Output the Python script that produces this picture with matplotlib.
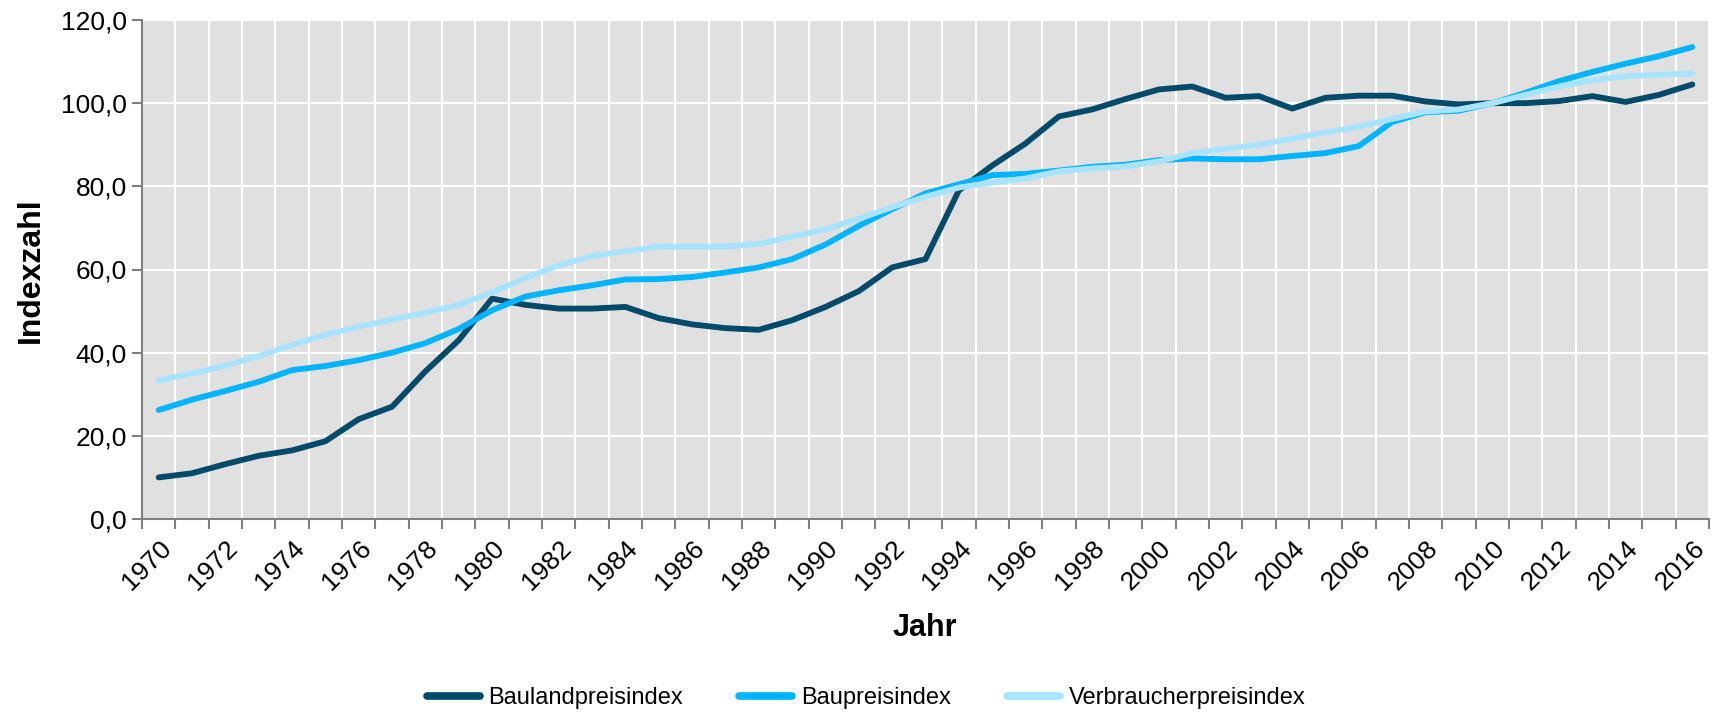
import matplotlib
matplotlib.use("Agg")
import matplotlib.pyplot as plt
from matplotlib.ticker import FuncFormatter, FixedLocator

plt.rcParams['font.family'] = ['Liberation Sans', 'DejaVu Sans']

# Data
years = list(range(1970, 2017))
bauland = [10.0, 11.0, 13.2, 15.2, 16.5, 18.7, 24.0, 27.0, 35.5, 43.0,
           53.0, 51.5, 50.6, 50.6, 51.0, 48.3, 46.8, 45.9, 45.5, 47.8,
           51.0, 54.8, 60.5, 62.5, 79.0, 85.0, 90.3, 96.8, 98.5, 101.0,
           103.3, 104.0, 101.3, 101.7, 98.7, 101.3, 101.8, 101.8, 100.4, 99.7,
           100.0, 100.0, 100.5, 101.7, 100.3, 102.0, 104.5]
baupreis = [26.2, 28.7, 30.8, 33.0, 35.8, 36.8, 38.2, 40.0, 42.3, 45.7,
            50.2, 53.5, 55.0, 56.2, 57.6, 57.7, 58.2, 59.3, 60.5, 62.5,
            66.0, 70.5, 74.5, 78.3, 80.5, 82.7, 83.0, 83.8, 84.7, 85.2,
            86.3, 86.7, 86.5, 86.5, 87.3, 88.0, 89.7, 95.5, 97.8, 98.2,
            100.0, 102.5, 105.3, 107.5, 109.5, 111.3, 113.5]
verbraucher = [33.3, 35.0, 36.9, 39.2, 41.9, 44.3, 46.2, 48.0, 49.6, 51.5,
               54.5, 58.0, 61.0, 63.2, 64.4, 65.5, 65.5, 65.5, 66.2, 67.9,
               69.7, 72.2, 75.0, 77.5, 79.7, 80.9, 81.9, 83.6, 84.3, 84.8,
               86.0, 88.0, 89.0, 90.0, 91.5, 93.0, 94.3, 96.2, 98.0, 98.5,
               100.0, 102.0, 104.0, 105.5, 106.5, 106.8, 107.2]
series_names = ['Baulandpreisindex', 'Baupreisindex', 'Verbraucherpreisindex']
colors = ['#004A6A', '#00B4FF', '#A8E4FF']

W, H = 1719, 714
fig = plt.figure(figsize=(W / 100, H / 100), dpi=100)
ax = fig.add_axes([142 / W, 1 - 519 / H, (1709 - 142) / W, (519 - 20) / H])
ax.set_facecolor('#E0E0E0')

x = list(range(len(years)))
for vals, name, col in zip([bauland, baupreis, verbraucher], series_names, colors):
    ax.plot(x, vals, color=col, lw=4.2, label=name, solid_capstyle='round',
            solid_joinstyle='round', zorder=3)

ax.set_xlim(-0.5, len(years) - 0.5)
ax.set_ylim(0, 120)

# y axis
ax.set_yticks(range(0, 121, 20))
ax.yaxis.set_major_formatter(FuncFormatter(lambda v, p: f"{v:.1f}".replace('.', ',')))
ax.tick_params(axis='y', labelsize=19, colors='#808080', labelcolor='black',
               length=7, width=1.5, pad=4)
ax.grid(axis='y', color='white', lw=1.5, zorder=1)

# x axis: ticks/grid at category boundaries, labels every 2 years
bounds = [i - 0.5 for i in range(len(years) + 1)]
ax.xaxis.set_minor_locator(FixedLocator(bounds))
ax.set_xticks(x[::2])
ax.set_xticklabels([str(y) for y in years[::2]], rotation=45, ha='right',
                   va='top', rotation_mode='anchor')
ax.tick_params(axis='x', which='major', length=0, labelsize=19, pad=12)
ax.tick_params(axis='x', which='minor', length=7, width=1.5, color='#808080')
ax.grid(axis='x', which='minor', color='white', lw=1.5, zorder=1)
ax.set_axisbelow(True)

for s in ['top', 'right']:
    ax.spines[s].set_visible(False)
for s in ['left', 'bottom']:
    ax.spines[s].set_color('#808080')
    ax.spines[s].set_linewidth(1.5)

fig.text(31 / W, 1 - 270 / H, 'Indexzahl', rotation=90, fontsize=23,
         fontweight='bold', ha='center', va='center')
fig.text(925 / W, 1 - 628 / H, 'Jahr', fontsize=22, fontweight='bold',
         ha='center', va='center')

leg = fig.legend(loc='center', bbox_to_anchor=(866 / W, 1 - 698 / H), ncol=3,
                 frameon=False, fontsize=17, handlelength=2.25, handletextpad=0.35,
                 columnspacing=2.4)
for line in leg.get_lines():
    line.set_linewidth(5.5)

fig.savefig('out.png', dpi=100)
